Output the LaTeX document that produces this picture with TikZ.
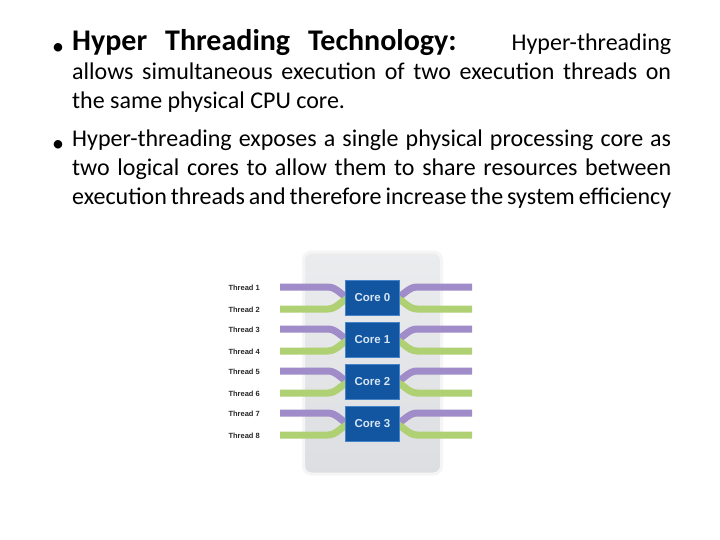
\documentclass[tikz,border=0pt]{standalone}
\usepackage{fontspec}
\setmainfont{Carlito}
\newfontfamily\lab{Liberation Sans}
\begin{document}
\begin{tikzpicture}[x=1pt,y=-1pt,
  thr/.style={line width=7pt},
  pur/.style={thr,draw={rgb,255:red,160;green,140;blue,200}},
  grn/.style={thr,draw={rgb,255:red,175;green,208;blue,115}},
  core/.style={draw={rgb,255:red,70;green,130;blue,200},line width=1pt,fill={rgb,255:red,18;green,85;blue,160},minimum width=54pt,minimum height=35pt,text={rgb,255:red,215;green,230;blue,245},font=\lab\bfseries\fontsize{11.5}{12}\selectfont},
  tl/.style={font=\lab\bfseries\fontsize{7.5}{8}\selectfont,anchor=west,text={rgb,255:red,40;green,40;blue,40}},
  bul/.style={anchor=base,font=\fontsize{24}{29}\selectfont},
  txt/.style={anchor=north west,text width=599pt,align=justify,inner sep=0pt,font=\fontsize{24}{29}\selectfont}]
\useasboundingbox (0,0) rectangle (720,540);
\fill[white] (0,0) rectangle (720,540);
% text
\node[bul] (b1) at (58,55) {\textbullet};
\node[txt] (t1) at (72,29) {{\fontsize{30}{29}\selectfont\bfseries Hyper\hspace{0.6em}Threading\hspace{0.6em}Technology:}\hfill \mbox{Hyper-threading}\linebreak allows simultaneous execution of two execution threads on the same physical CPU core.};
\node[bul] (b2) at (58,152) {\textbullet};
\node[txt] (t2) at (72,130) {\mbox{Hyper-threading} exposes a single physical processing core as two logical cores to allow them to share resources between execution threads and therefore increase the system efficiency};
% chip
\node[draw={rgb,255:red,245;green,245;blue,245},line width=3pt,rounded corners=8pt,top color={rgb,255:red,235;green,236;blue,238},bottom color={rgb,255:red,220;green,222;blue,225},minimum width=138pt,minimum height=222pt] (chip) at (372.5,363) {};
\foreach \i/\y in {0/298,1/340,2/382,3/424}{
  \pgfmathtruncatemacro{\a}{2*\i+1}\pgfmathtruncatemacro{\b}{2*\i+2}
  \coordinate (lp\i) at (280,\y-11); \coordinate (lg\i) at (280,\y+11);
  \coordinate (rp\i) at (472,\y-11); \coordinate (rg\i) at (472,\y+11);
  \coordinate (cl\i) at (352,\y); \coordinate (cr\i) at (393,\y);
  \draw[pur] (lp\i) -- ++(48,0) .. controls (338,\y-11) and (342,\y) .. (cl\i);
  \draw[grn] (lg\i) -- ++(48,0) .. controls (338,\y+11) and (342,\y) .. (cl\i);
  \draw[pur] (rp\i) -- ++(-55,0) .. controls (407,\y-11) and (403,\y) .. (cr\i);
  \draw[grn] (rg\i) -- ++(-55,0) .. controls (407,\y+11) and (403,\y) .. (cr\i);
  \node[core] (c\i) at (372.5,\y) {Core \i};
  \node[tl] (ta\i) at (225,\y-10) {Thread \a};
  \node[tl] (tb\i) at (225,\y+12) {Thread \b};
}
\end{tikzpicture}
\end{document}
